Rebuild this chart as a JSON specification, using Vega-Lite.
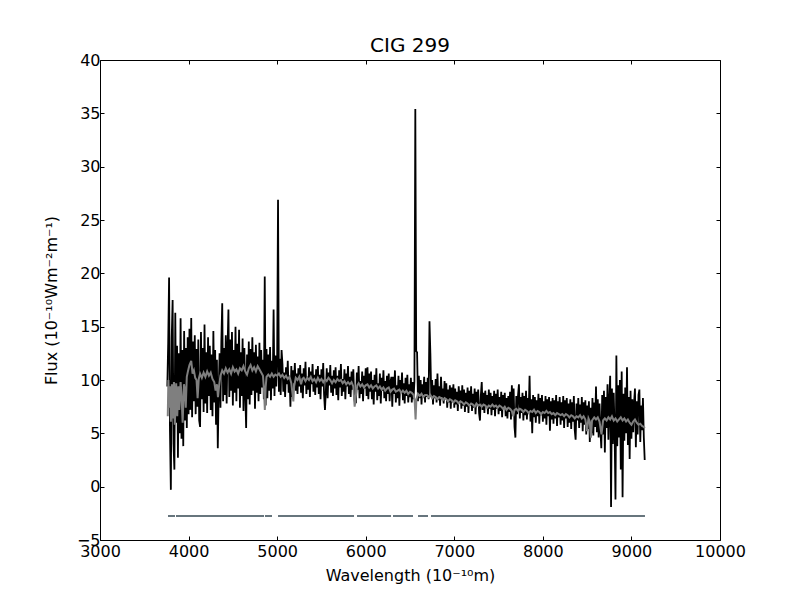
{
  "$schema": "https://vega.github.io/schema/vega-lite/v6.json",
  "width": 620,
  "height": 480,
  "autosize": {"type": "none"},
  "padding": {"left": 100, "top": 60, "right": 80, "bottom": 60},
  "title": {"text": "CIG 299", "offset": -4},
  "datasets": {
    "observed": [
      {"w":3760,"f":9.4},{"w":3770,"f":13.5},{"w":3780,"f":19.6},{"w":3790,"f":5.2},{"w":3800,"f":-0.3},{"w":3810,"f":14.0},{"w":3820,"f":17.5},{"w":3830,"f":4.0},{"w":3840,"f":1.6},{"w":3850,"f":16.3},
      {"w":3860,"f":6.0},{"w":3870,"f":13.2},{"w":3880,"f":2.7},{"w":3890,"f":12.5},{"w":3900,"f":5.0},{"w":3910,"f":15.8},{"w":3920,"f":4.5},{"w":3930,"f":12.8},{"w":3940,"f":3.8},{"w":3950,"f":14.6},
      {"w":3960,"f":6.2},{"w":3970,"f":13.0},{"w":3980,"f":5.5},{"w":3990,"f":14.0},{"w":4000,"f":6.8},{"w":4010,"f":14.8},{"w":4020,"f":7.2},{"w":4030,"f":15.8},{"w":4040,"f":6.5},{"w":4050,"f":13.6},
      {"w":4060,"f":8.0},{"w":4070,"f":14.2},{"w":4080,"f":6.8},{"w":4090,"f":12.9},{"w":4100,"f":7.5},{"w":4110,"f":13.8},{"w":4120,"f":6.2},{"w":4130,"f":5.6},{"w":4140,"f":14.5},{"w":4150,"f":8.2},
      {"w":4160,"f":13.0},{"w":4170,"f":7.0},{"w":4180,"f":15.2},{"w":4190,"f":7.8},{"w":4200,"f":12.6},{"w":4210,"f":6.9},{"w":4220,"f":14.0},{"w":4230,"f":8.5},{"w":4240,"f":13.2},{"w":4250,"f":7.2},
      {"w":4260,"f":12.4},{"w":4270,"f":6.6},{"w":4280,"f":14.6},{"w":4290,"f":7.9},{"w":4300,"f":12.8},{"w":4310,"f":5.8},{"w":4320,"f":11.9},{"w":4330,"f":3.6},{"w":4340,"f":9.0},{"w":4350,"f":12.5},
      {"w":4360,"f":7.4},{"w":4370,"f":13.6},{"w":4380,"f":17.2},{"w":4390,"f":8.0},{"w":4400,"f":13.0},{"w":4410,"f":8.6},{"w":4420,"f":14.2},{"w":4430,"f":7.8},{"w":4440,"f":13.0},{"w":4450,"f":16.6},
      {"w":4460,"f":8.4},{"w":4470,"f":13.8},{"w":4480,"f":9.0},{"w":4490,"f":14.5},{"w":4500,"f":7.6},{"w":4510,"f":12.8},{"w":4520,"f":8.8},{"w":4530,"f":15.0},{"w":4540,"f":8.0},{"w":4550,"f":13.4},
      {"w":4560,"f":9.2},{"w":4570,"f":14.7},{"w":4580,"f":7.4},{"w":4590,"f":12.6},{"w":4600,"f":8.5},{"w":4610,"f":13.9},{"w":4620,"f":7.1},{"w":4630,"f":13.0},{"w":4640,"f":8.9},{"w":4650,"f":5.5},
      {"w":4660,"f":12.4},{"w":4670,"f":8.2},{"w":4680,"f":13.6},{"w":4690,"f":7.7},{"w":4700,"f":12.9},{"w":4710,"f":8.6},{"w":4720,"f":14.0},{"w":4730,"f":9.0},{"w":4740,"f":12.6},{"w":4750,"f":7.3},
      {"w":4760,"f":13.3},{"w":4770,"f":8.8},{"w":4780,"f":12.2},{"w":4790,"f":8.0},{"w":4800,"f":13.5},{"w":4810,"f":8.7},{"w":4820,"f":12.8},{"w":4830,"f":9.3},{"w":4840,"f":11.9},{"w":4850,"f":8.2},
      {"w":4860,"f":19.7},{"w":4870,"f":7.6},{"w":4880,"f":12.9},{"w":4890,"f":8.3},{"w":4900,"f":12.4},{"w":4910,"f":9.0},{"w":4920,"f":13.1},{"w":4930,"f":8.1},{"w":4940,"f":11.8},{"w":4950,"f":9.2},
      {"w":4960,"f":16.6},{"w":4970,"f":8.5},{"w":4980,"f":12.3},{"w":4990,"f":9.4},{"w":5000,"f":11.6},{"w":5010,"f":26.9},{"w":5020,"f":8.9},{"w":5030,"f":12.0},{"w":5040,"f":8.6},{"w":5050,"f":12.8},
      {"w":5060,"f":11.5},{"w":5070,"f":8.9},{"w":5080,"f":10.7},{"w":5090,"f":8.4},{"w":5100,"f":11.2},{"w":5110,"f":9.6},{"w":5120,"f":11.8},{"w":5130,"f":8.8},{"w":5140,"f":10.4},{"w":5150,"f":7.5},
      {"w":5160,"f":11.3},{"w":5170,"f":8.4},{"w":5180,"f":10.9},{"w":5190,"f":9.7},{"w":5200,"f":11.6},{"w":5210,"f":9.0},{"w":5220,"f":10.6},{"w":5230,"f":8.7},{"w":5240,"f":11.1},{"w":5250,"f":9.4},
      {"w":5260,"f":11.4},{"w":5270,"f":8.8},{"w":5280,"f":10.6},{"w":5290,"f":8.3},{"w":5300,"f":11.1},{"w":5310,"f":9.5},{"w":5320,"f":11.7},{"w":5330,"f":8.7},{"w":5340,"f":10.3},{"w":5350,"f":9.1},
      {"w":5360,"f":11.2},{"w":5370,"f":8.4},{"w":5380,"f":10.8},{"w":5390,"f":9.6},{"w":5400,"f":11.5},{"w":5410,"f":8.9},{"w":5420,"f":10.5},{"w":5430,"f":8.6},{"w":5440,"f":11.0},{"w":5450,"f":9.3},
      {"w":5460,"f":11.3},{"w":5470,"f":8.7},{"w":5480,"f":10.5},{"w":5490,"f":8.2},{"w":5500,"f":11.0},{"w":5510,"f":9.4},{"w":5520,"f":11.6},{"w":5530,"f":8.6},{"w":5540,"f":7.2},{"w":5550,"f":9.0},
      {"w":5560,"f":11.1},{"w":5570,"f":8.3},{"w":5580,"f":10.7},{"w":5590,"f":9.5},{"w":5600,"f":11.4},{"w":5610,"f":8.8},{"w":5620,"f":10.4},{"w":5630,"f":8.5},{"w":5640,"f":10.9},{"w":5650,"f":9.2},
      {"w":5660,"f":11.2},{"w":5670,"f":8.6},{"w":5680,"f":10.4},{"w":5690,"f":8.1},{"w":5700,"f":10.9},{"w":5710,"f":9.3},{"w":5720,"f":11.5},{"w":5730,"f":8.5},{"w":5740,"f":10.1},{"w":5750,"f":8.9},
      {"w":5760,"f":11.0},{"w":5770,"f":8.2},{"w":5780,"f":10.6},{"w":5790,"f":9.4},{"w":5800,"f":11.3},{"w":5810,"f":8.7},{"w":5820,"f":10.3},{"w":5830,"f":8.4},{"w":5840,"f":10.8},{"w":5850,"f":9.1},
      {"w":5860,"f":11.0},{"w":5870,"f":8.4},{"w":5880,"f":7.8},{"w":5890,"f":7.9},{"w":5900,"f":10.7},{"w":5910,"f":9.1},{"w":5920,"f":11.3},{"w":5930,"f":8.3},{"w":5940,"f":9.9},{"w":5950,"f":8.7},
      {"w":5960,"f":10.8},{"w":5970,"f":8.0},{"w":5980,"f":10.4},{"w":5990,"f":9.2},{"w":6000,"f":11.1},{"w":6010,"f":8.5},{"w":6020,"f":11.2},{"w":6030,"f":8.2},{"w":6040,"f":10.6},{"w":6050,"f":8.9},
      {"w":6060,"f":10.8},{"w":6070,"f":8.2},{"w":6080,"f":10.0},{"w":6090,"f":7.7},{"w":6100,"f":10.5},{"w":6110,"f":8.9},{"w":6120,"f":11.1},{"w":6130,"f":8.1},{"w":6140,"f":9.7},{"w":6150,"f":8.5},
      {"w":6160,"f":10.6},{"w":6170,"f":7.8},{"w":6180,"f":10.2},{"w":6190,"f":9.0},{"w":6200,"f":10.9},{"w":6210,"f":8.3},{"w":6220,"f":9.9},{"w":6230,"f":8.0},{"w":6240,"f":10.4},{"w":6250,"f":8.7},
      {"w":6260,"f":10.6},{"w":6270,"f":8.0},{"w":6280,"f":9.8},{"w":6290,"f":10.3},{"w":6300,"f":7.5},{"w":6310,"f":10.3},{"w":6320,"f":8.7},{"w":6330,"f":10.9},{"w":6340,"f":7.9},{"w":6350,"f":9.5},
      {"w":6360,"f":8.3},{"w":6370,"f":10.4},{"w":6380,"f":7.6},{"w":6390,"f":10.0},{"w":6400,"f":8.8},{"w":6410,"f":10.7},{"w":6420,"f":8.1},{"w":6430,"f":9.7},{"w":6440,"f":7.8},{"w":6450,"f":10.2},
      {"w":6460,"f":8.5},{"w":6470,"f":10.5},{"w":6480,"f":7.9},{"w":6490,"f":9.6},{"w":6500,"f":8.4},{"w":6510,"f":10.2},{"w":6520,"f":7.9},{"w":6530,"f":9.8},{"w":6540,"f":8.2},{"w":6550,"f":9.9},
      {"w":6560,"f":35.4},{"w":6570,"f":12.7},{"w":6580,"f":12.6},{"w":6590,"f":8.0},{"w":6600,"f":10.4},{"w":6610,"f":8.3},{"w":6620,"f":10.0},{"w":6630,"f":7.7},{"w":6640,"f":9.6},{"w":6650,"f":8.6},
      {"w":6660,"f":10.3},{"w":6670,"f":7.9},{"w":6680,"f":9.8},{"w":6690,"f":8.4},{"w":6700,"f":10.2},{"w":6710,"f":8.2},{"w":6720,"f":15.5},{"w":6730,"f":12.5},{"w":6740,"f":8.4},{"w":6750,"f":10.0},
      {"w":6760,"f":7.7},{"w":6770,"f":9.5},{"w":6780,"f":8.3},{"w":6790,"f":10.1},{"w":6800,"f":7.9},{"w":6810,"f":10.6},{"w":6820,"f":8.1},{"w":6830,"f":9.4},{"w":6840,"f":7.6},{"w":6850,"f":10.3},
      {"w":6860,"f":8.4},{"w":6870,"f":9.2},{"w":6880,"f":7.8},{"w":6890,"f":9.9},{"w":6900,"f":8.2},{"w":6910,"f":9.7},{"w":6920,"f":7.4},{"w":6930,"f":9.1},{"w":6940,"f":7.9},{"w":6950,"f":9.5},
      {"w":6960,"f":7.3},{"w":6970,"f":9.3},{"w":6980,"f":8.0},{"w":6990,"f":9.6},{"w":7000,"f":7.4},{"w":7010,"f":9.2},{"w":7020,"f":7.7},{"w":7030,"f":8.9},{"w":7040,"f":7.1},{"w":7050,"f":9.4},
      {"w":7060,"f":8.0},{"w":7070,"f":9.0},{"w":7080,"f":7.3},{"w":7090,"f":9.5},{"w":7100,"f":7.6},{"w":7110,"f":9.1},{"w":7120,"f":7.0},{"w":7130,"f":8.8},{"w":7140,"f":7.5},{"w":7150,"f":9.3},
      {"w":7160,"f":6.9},{"w":7170,"f":9.0},{"w":7180,"f":7.6},{"w":7190,"f":9.4},{"w":7200,"f":7.1},{"w":7210,"f":8.7},{"w":7220,"f":7.4},{"w":7230,"f":9.2},{"w":7240,"f":6.8},{"w":7250,"f":8.9},
      {"w":7260,"f":7.7},{"w":7270,"f":9.1},{"w":7280,"f":6.9},{"w":7290,"f":6.2},{"w":7300,"f":8.6},{"w":7310,"f":9.8},{"w":7320,"f":7.2},{"w":7330,"f":8.8},{"w":7340,"f":6.9},{"w":7350,"f":9.0},
      {"w":7360,"f":7.5},{"w":7370,"f":8.6},{"w":7380,"f":6.8},{"w":7390,"f":9.1},{"w":7400,"f":7.3},{"w":7410,"f":8.8},{"w":7420,"f":6.7},{"w":7430,"f":8.5},{"w":7440,"f":7.2},{"w":7450,"f":9.0},
      {"w":7460,"f":6.6},{"w":7470,"f":8.7},{"w":7480,"f":7.3},{"w":7490,"f":9.1},{"w":7500,"f":6.8},{"w":7510,"f":8.4},{"w":7520,"f":7.1},{"w":7530,"f":8.9},{"w":7540,"f":6.5},{"w":7550,"f":8.6},
      {"w":7560,"f":7.4},{"w":7570,"f":8.8},{"w":7580,"f":6.6},{"w":7590,"f":8.3},{"w":7600,"f":6.4},{"w":7610,"f":8.5},{"w":7620,"f":7.0},{"w":7630,"f":8.9},{"w":7640,"f":6.3},{"w":7650,"f":9.5},
      {"w":7660,"f":6.9},{"w":7670,"f":9.2},{"w":7680,"f":5.6},{"w":7690,"f":4.6},{"w":7700,"f":8.5},{"w":7710,"f":6.8},{"w":7720,"f":8.6},{"w":7730,"f":9.6},{"w":7740,"f":6.4},{"w":7750,"f":8.4},
      {"w":7760,"f":6.9},{"w":7770,"f":8.8},{"w":7780,"f":6.2},{"w":7790,"f":8.5},{"w":7800,"f":6.7},{"w":7810,"f":9.0},{"w":7820,"f":6.3},{"w":7830,"f":8.3},{"w":7840,"f":7.0},{"w":7850,"f":10.4},
      {"w":7860,"f":6.1},{"w":7870,"f":8.2},{"w":7880,"f":5.0},{"w":7890,"f":8.6},{"w":7900,"f":6.5},{"w":7910,"f":8.4},{"w":7920,"f":6.0},{"w":7930,"f":8.1},{"w":7940,"f":6.6},{"w":7950,"f":8.7},
      {"w":7960,"f":5.9},{"w":7970,"f":8.3},{"w":7980,"f":6.7},{"w":7990,"f":8.6},{"w":8000,"f":6.1},{"w":8010,"f":8.0},{"w":8020,"f":6.4},{"w":8030,"f":8.5},{"w":8040,"f":5.8},{"w":8050,"f":8.2},
      {"w":8060,"f":6.6},{"w":8070,"f":8.4},{"w":8080,"f":5.25},{"w":8090,"f":8.0},{"w":8100,"f":6.3},{"w":8110,"f":8.3},{"w":8120,"f":5.9},{"w":8130,"f":8.1},{"w":8140,"f":6.4},{"w":8150,"f":8.6},
      {"w":8160,"f":5.7},{"w":8170,"f":8.0},{"w":8180,"f":6.5},{"w":8190,"f":8.4},{"w":8200,"f":5.8},{"w":8210,"f":7.9},{"w":8220,"f":6.2},{"w":8230,"f":8.5},{"w":8240,"f":5.5},{"w":8250,"f":8.1},
      {"w":8260,"f":6.4},{"w":8270,"f":8.3},{"w":8280,"f":5.6},{"w":8290,"f":7.8},{"w":8300,"f":6.0},{"w":8310,"f":8.2},{"w":8320,"f":5.4},{"w":8330,"f":7.9},{"w":8340,"f":6.1},{"w":8350,"f":8.5},
      {"w":8360,"f":5.3},{"w":8370,"f":4.4},{"w":8380,"f":7.8},{"w":8390,"f":6.2},{"w":8400,"f":8.3},{"w":8410,"f":5.5},{"w":8420,"f":7.7},{"w":8430,"f":6.0},{"w":8440,"f":8.4},{"w":8450,"f":5.2},
      {"w":8460,"f":7.9},{"w":8470,"f":5.8},{"w":8480,"f":8.1},{"w":8490,"f":4.9},{"w":8500,"f":7.6},{"w":8510,"f":5.4},{"w":8520,"f":8.0},{"w":8530,"f":4.2},{"w":8540,"f":7.4},{"w":8550,"f":5.0},
      {"w":8560,"f":8.3},{"w":8570,"f":4.8},{"w":8580,"f":7.9},{"w":8590,"f":5.6},{"w":8600,"f":9.4},{"w":8610,"f":5.1},{"w":8620,"f":8.2},{"w":8630,"f":4.6},{"w":8640,"f":7.8},{"w":8650,"f":5.3},
      {"w":8660,"f":3.6},{"w":8670,"f":8.6},{"w":8680,"f":4.9},{"w":8690,"f":9.0},{"w":8700,"f":3.2},{"w":8710,"f":8.4},{"w":8720,"f":5.5},{"w":8730,"f":9.6},{"w":8740,"f":4.4},{"w":8750,"f":8.1},
      {"w":8760,"f":10.4},{"w":8770,"f":-1.9},{"w":8780,"f":9.2},{"w":8790,"f":4.0},{"w":8800,"f":8.8},{"w":8810,"f":5.2},{"w":8820,"f":-1.2},{"w":8830,"f":12.3},{"w":8840,"f":3.8},{"w":8850,"f":9.5},
      {"w":8860,"f":4.6},{"w":8870,"f":10.0},{"w":8880,"f":1.6},{"w":8890,"f":10.8},{"w":8900,"f":-1.0},{"w":8910,"f":8.7},{"w":8920,"f":4.3},{"w":8930,"f":9.3},{"w":8940,"f":5.0},{"w":8950,"f":11.2},
      {"w":8960,"f":3.9},{"w":8970,"f":8.4},{"w":8980,"f":2.6},{"w":8990,"f":9.0},{"w":9000,"f":4.5},{"w":9010,"f":8.2},{"w":9020,"f":5.1},{"w":9030,"f":7.9},{"w":9040,"f":9.2},{"w":9050,"f":3.7},
      {"w":9060,"f":8.0},{"w":9070,"f":4.9},{"w":9080,"f":8.6},{"w":9090,"f":9.1},{"w":9100,"f":4.2},{"w":9110,"f":7.6},{"w":9120,"f":5.3},{"w":9130,"f":8.3},{"w":9140,"f":4.6},{"w":9150,"f":2.5}
    ],
    "model": [
      {"w":3765,"f":6.6},{"w":3772,"f":10.0},{"w":3780,"f":7.4},{"w":3790,"f":9.4},{"w":3800,"f":6.1},{"w":3812,"f":9.6},{"w":3822,"f":6.4},{"w":3835,"f":9.8},{"w":3845,"f":5.8},{"w":3860,"f":9.7},
      {"w":3872,"f":6.6},{"w":3885,"f":9.4},{"w":3895,"f":7.2},{"w":3910,"f":9.8},{"w":3920,"f":8.6},{"w":3933,"f":6.0},{"w":3948,"f":9.6},{"w":3960,"f":9.0},{"w":3968,"f":7.4},{"w":3980,"f":10.3},
      {"w":3995,"f":10.9},{"w":4010,"f":11.4},{"w":4030,"f":11.8},{"w":4045,"f":10.6},{"w":4060,"f":10.9},{"w":4075,"f":10.2},{"w":4090,"f":10.0},{"w":4102,"f":8.3},{"w":4115,"f":10.1},{"w":4130,"f":10.6},
      {"w":4150,"f":10.2},{"w":4170,"f":10.7},{"w":4190,"f":10.3},{"w":4210,"f":10.8},{"w":4230,"f":10.4},{"w":4250,"f":10.7},{"w":4270,"f":10.1},{"w":4290,"f":9.8},{"w":4305,"f":9.0},{"w":4320,"f":9.6},
      {"w":4332,"f":8.4},{"w":4345,"f":9.5},{"w":4360,"f":10.4},{"w":4380,"f":10.9},{"w":4400,"f":10.6},{"w":4420,"f":11.1},{"w":4440,"f":10.7},{"w":4460,"f":11.0},{"w":4480,"f":10.6},{"w":4500,"f":11.2},
      {"w":4520,"f":10.8},{"w":4540,"f":11.0},{"w":4560,"f":10.6},{"w":4580,"f":11.1},{"w":4600,"f":10.9},{"w":4620,"f":11.3},{"w":4640,"f":10.8},{"w":4660,"f":10.5},{"w":4680,"f":11.1},{"w":4700,"f":11.4},
      {"w":4720,"f":10.9},{"w":4740,"f":11.2},{"w":4760,"f":10.8},{"w":4780,"f":11.3},{"w":4800,"f":11.0},{"w":4820,"f":10.7},{"w":4840,"f":10.4},{"w":4852,"f":9.0},{"w":4861,"f":7.2},{"w":4870,"f":9.3},
      {"w":4880,"f":10.3},{"w":4900,"f":10.5},{"w":4920,"f":10.3},{"w":4940,"f":10.6},{"w":4960,"f":10.3},{"w":4980,"f":10.5},{"w":5000,"f":10.4},{"w":5020,"f":10.6},{"w":5040,"f":10.3},{"w":5060,"f":10.5},
      {"w":5080,"f":10.2},{"w":5100,"f":10.4},{"w":5120,"f":10.1},{"w":5140,"f":10.3},{"w":5160,"f":9.7},{"w":5175,"f":8.6},{"w":5183,"f":8.0},{"w":5192,"f":9.4},{"w":5210,"f":10.2},{"w":5230,"f":10.0},
      {"w":5250,"f":10.3},{"w":5270,"f":9.6},{"w":5285,"f":10.1},{"w":5300,"f":10.2},{"w":5320,"f":9.9},{"w":5340,"f":10.2},{"w":5360,"f":10.0},{"w":5380,"f":10.3},{"w":5400,"f":9.9},{"w":5420,"f":10.1},
      {"w":5440,"f":9.8},{"w":5460,"f":10.2},{"w":5480,"f":9.9},{"w":5500,"f":10.1},{"w":5520,"f":9.8},{"w":5540,"f":10.1},{"w":5560,"f":9.9},{"w":5580,"f":10.2},{"w":5600,"f":10.0},{"w":5620,"f":9.7},
      {"w":5640,"f":10.0},{"w":5660,"f":9.8},{"w":5680,"f":10.1},{"w":5700,"f":9.9},{"w":5720,"f":10.0},{"w":5740,"f":9.7},{"w":5760,"f":9.9},{"w":5780,"f":9.6},{"w":5800,"f":9.8},{"w":5820,"f":9.6},
      {"w":5840,"f":9.8},{"w":5860,"f":9.4},{"w":5875,"f":7.5},{"w":5890,"f":8.6},{"w":5905,"f":9.5},{"w":5920,"f":9.7},{"w":5940,"f":9.4},{"w":5960,"f":9.6},{"w":5980,"f":9.3},{"w":6000,"f":9.5},
      {"w":6020,"f":9.6},{"w":6040,"f":9.3},{"w":6060,"f":9.5},{"w":6080,"f":9.2},{"w":6100,"f":9.4},{"w":6120,"f":9.5},{"w":6140,"f":9.2},{"w":6160,"f":9.4},{"w":6180,"f":9.1},{"w":6200,"f":9.3},
      {"w":6220,"f":9.0},{"w":6240,"f":9.2},{"w":6260,"f":9.3},{"w":6280,"f":8.9},{"w":6300,"f":9.1},{"w":6320,"f":9.2},{"w":6340,"f":8.9},{"w":6360,"f":9.0},{"w":6380,"f":9.1},{"w":6400,"f":8.8},
      {"w":6420,"f":9.0},{"w":6440,"f":8.8},{"w":6460,"f":9.0},{"w":6480,"f":8.7},{"w":6500,"f":8.9},{"w":6520,"f":8.8},{"w":6540,"f":8.6},{"w":6553,"f":8.0},{"w":6563,"f":6.3},{"w":6572,"f":8.2},
      {"w":6590,"f":8.7},{"w":6610,"f":8.5},{"w":6630,"f":8.7},{"w":6650,"f":8.4},{"w":6670,"f":8.6},{"w":6690,"f":8.6},{"w":6710,"f":8.4},{"w":6730,"f":8.6},{"w":6750,"f":8.3},{"w":6770,"f":8.5},
      {"w":6790,"f":8.4},{"w":6810,"f":8.2},{"w":6830,"f":8.4},{"w":6850,"f":8.3},{"w":6870,"f":8.1},{"w":6890,"f":8.3},{"w":6910,"f":8.2},{"w":6930,"f":8.0},{"w":6950,"f":8.2},{"w":6970,"f":8.1},
      {"w":6990,"f":7.9},{"w":7010,"f":8.1},{"w":7030,"f":8.0},{"w":7050,"f":7.8},{"w":7070,"f":8.0},{"w":7090,"f":7.9},{"w":7110,"f":7.7},{"w":7130,"f":7.9},{"w":7150,"f":7.8},{"w":7170,"f":7.6},
      {"w":7190,"f":7.8},{"w":7210,"f":7.7},{"w":7230,"f":7.5},{"w":7250,"f":7.8},{"w":7270,"f":7.6},{"w":7290,"f":7.7},{"w":7310,"f":7.5},{"w":7330,"f":7.7},{"w":7350,"f":7.6},{"w":7370,"f":7.4},
      {"w":7390,"f":7.6},{"w":7410,"f":7.5},{"w":7430,"f":7.7},{"w":7450,"f":7.5},{"w":7470,"f":7.6},{"w":7490,"f":7.4},{"w":7510,"f":7.6},{"w":7530,"f":7.5},{"w":7550,"f":7.3},{"w":7570,"f":7.5},
      {"w":7590,"f":7.2},{"w":7610,"f":7.4},{"w":7630,"f":7.3},{"w":7650,"f":7.1},{"w":7665,"f":6.6},{"w":7680,"f":7.2},{"w":7700,"f":7.3},{"w":7720,"f":7.1},{"w":7740,"f":7.3},{"w":7760,"f":7.2},
      {"w":7780,"f":7.0},{"w":7800,"f":7.2},{"w":7820,"f":7.1},{"w":7840,"f":6.9},{"w":7860,"f":7.1},{"w":7880,"f":7.0},{"w":7900,"f":7.2},{"w":7920,"f":6.9},{"w":7940,"f":7.1},{"w":7960,"f":7.0},
      {"w":7980,"f":6.8},{"w":8000,"f":7.0},{"w":8020,"f":6.9},{"w":8040,"f":7.1},{"w":8060,"f":6.9},{"w":8080,"f":7.0},{"w":8100,"f":6.8},{"w":8120,"f":6.9},{"w":8140,"f":6.7},{"w":8160,"f":6.9},
      {"w":8180,"f":6.8},{"w":8200,"f":6.7},{"w":8220,"f":6.8},{"w":8240,"f":6.6},{"w":8260,"f":6.8},{"w":8280,"f":6.7},{"w":8300,"f":6.5},{"w":8320,"f":6.7},{"w":8340,"f":6.6},{"w":8360,"f":6.4},
      {"w":8380,"f":6.6},{"w":8400,"f":6.5},{"w":8420,"f":6.7},{"w":8440,"f":6.4},{"w":8460,"f":6.6},{"w":8480,"f":6.3},{"w":8498,"f":5.2},{"w":8515,"f":6.4},{"w":8530,"f":6.1},{"w":8542,"f":4.6},
      {"w":8555,"f":6.2},{"w":8580,"f":6.5},{"w":8600,"f":6.3},{"w":8620,"f":6.5},{"w":8640,"f":6.1},{"w":8662,"f":4.9},{"w":8680,"f":6.2},{"w":8700,"f":6.4},{"w":8720,"f":6.2},{"w":8740,"f":6.5},
      {"w":8760,"f":6.3},{"w":8780,"f":6.6},{"w":8800,"f":6.2},{"w":8820,"f":6.4},{"w":8840,"f":6.1},{"w":8860,"f":6.3},{"w":8880,"f":6.5},{"w":8900,"f":6.2},{"w":8920,"f":6.4},{"w":8940,"f":6.1},
      {"w":8960,"f":6.3},{"w":8980,"f":6.0},{"w":9000,"f":5.8},{"w":9020,"f":6.1},{"w":9040,"f":6.3},{"w":9060,"f":6.0},{"w":9080,"f":5.8},{"w":9100,"f":5.9},{"w":9120,"f":5.7},{"w":9140,"f":5.6},
      {"w":9152,"f":5.5}
    ],
    "mask": [
      {"seg":1,"w":3768,"f":-2.75},{"seg":1,"w":3847,"f":-2.75},
      {"seg":2,"w":3858,"f":-2.75},{"seg":2,"w":4852,"f":-2.75},
      {"seg":3,"w":4863,"f":-2.75},{"seg":3,"w":4942,"f":-2.75},
      {"seg":4,"w":5010,"f":-2.75},{"seg":4,"w":5868,"f":-2.75},
      {"seg":5,"w":5902,"f":-2.75},{"seg":5,"w":6286,"f":-2.75},
      {"seg":6,"w":6308,"f":-2.75},{"seg":6,"w":6534,"f":-2.75},
      {"seg":7,"w":6590,"f":-2.75},{"seg":7,"w":6703,"f":-2.75},
      {"seg":8,"w":6737,"f":-2.75},{"seg":8,"w":9153,"f":-2.75}
    ]
  },
  "layer": [
    {
      "data": {"name": "observed"},
      "mark": {"type": "line", "color": "black", "strokeWidth": 1.8, "clip": true},
      "encoding": {
        "x": {"field": "w", "type": "quantitative", "scale": {"domain": [3000, 10000], "nice": false, "zero": false},
          "axis": {"orient": "bottom", "title": "Wavelength (10⁻¹⁰m)", "format": "d", "values": [3000,4000,5000,6000,7000,8000,9000,10000], "labelPadding": 7, "titlePadding": 8}},
        "y": {"field": "f", "type": "quantitative", "scale": {"domain": [-5, 40], "nice": false, "zero": false},
          "axis": {"orient": "left", "title": "Flux (10⁻¹⁰Wm⁻²m⁻¹)", "format": "d", "values": [-5,0,5,10,15,20,25,30,35,40], "labelPadding": 4, "titlePadding": 17}}
      }
    },
    {
      "data": {"name": "model"},
      "mark": {"type": "line", "color": "#7f7f7f", "strokeWidth": 2, "clip": true},
      "encoding": {
        "x": {"field": "w", "type": "quantitative", "scale": {"domain": [3000, 10000], "nice": false, "zero": false},
          "axis": {"orient": "top", "title": null, "labels": false, "values": [3000,4000,5000,6000,7000,8000,9000,10000]}},
        "y": {"field": "f", "type": "quantitative", "scale": {"domain": [-5, 40], "nice": false, "zero": false},
          "axis": {"orient": "right", "title": null, "labels": false, "values": [-5,0,5,10,15,20,25,30,35,40]}}
      }
    },
    {
      "data": {"name": "mask"},
      "mark": {"type": "line", "color": "#67757d", "strokeWidth": 2},
      "encoding": {
        "x": {"field": "w", "type": "quantitative", "axis": null},
        "y": {"field": "f", "type": "quantitative", "axis": null},
        "detail": {"field": "seg", "type": "nominal"}
      }
    }
  ],
  "resolve": {"axis": {"x": "independent", "y": "independent"}},
  "config": {
    "view": {"stroke": null},
    "axis": {
      "grid": false, "domainColor": "black", "domainWidth": 1, "tickColor": "black", "tickWidth": 1, "tickSize": -4,
      "labelFont": "DejaVu Sans", "labelFontSize": 16, "labelColor": "black", "labelOverlap": false, "labelFlush": false, "labelBound": false,
      "titleFont": "DejaVu Sans", "titleFontSize": 16, "titleFontWeight": "normal", "titleColor": "black"
    },
    "title": {"font": "DejaVu Sans", "fontSize": 20, "fontWeight": "normal", "color": "black"}
  }
}
